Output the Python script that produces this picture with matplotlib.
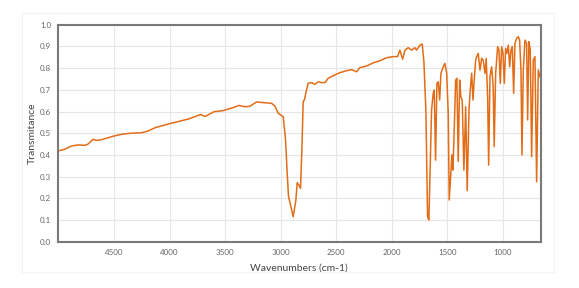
import matplotlib.pyplot as plt
from matplotlib.patches import Rectangle

# IR spectrum (wavenumber in cm-1, transmittance)
wavenumbers = [5000, 4944, 4884, 4824, 4764, 4734, 4689, 4659, 4614, 4509,
               4433, 4343, 4253, 4194, 4133, 4014, 3833, 3720, 3680, 3600,
               3518, 3428, 3374, 3322, 3277, 3217, 3158, 3082, 3052, 3022,
               2977, 2956, 2941, 2929, 2911, 2887, 2863, 2851, 2836, 2821,
               2809, 2797, 2785, 2767, 2752, 2722, 2692, 2662, 2632, 2602,
               2572, 2527, 2467, 2406, 2361, 2316, 2287, 2226, 2167, 2106,
               2046, 1987, 1947, 1926, 1902, 1881, 1851, 1821, 1791, 1776,
               1746, 1725, 1710, 1692, 1677, 1665, 1653, 1641, 1626, 1617,
               1605, 1593, 1581, 1568, 1557, 1536, 1521, 1505, 1491, 1482,
               1469, 1458, 1449, 1437, 1424, 1413, 1401, 1388, 1377, 1365,
               1350, 1334, 1320, 1304, 1293, 1280, 1268, 1257, 1244, 1235,
               1221, 1205, 1190, 1176, 1160, 1149, 1136, 1127, 1115, 1100,
               1086, 1077, 1064, 1046, 1034, 1022, 1010, 998, 986, 974,
               962, 950, 938, 926, 914, 902, 890, 875, 860, 848,
               836, 827, 815, 800, 785, 776, 764, 752, 740, 725,
               710, 695, 680, 665]
transmittance = [0.419, 0.426, 0.441, 0.446, 0.444, 0.450, 0.472, 0.467, 0.470, 0.486,
                 0.495, 0.500, 0.502, 0.510, 0.525, 0.542, 0.565, 0.586, 0.577, 0.599,
                 0.604, 0.618, 0.628, 0.622, 0.624, 0.644, 0.641, 0.638, 0.625, 0.592,
                 0.576, 0.469, 0.315, 0.207, 0.169, 0.115, 0.192, 0.272, 0.261, 0.246,
                 0.423, 0.645, 0.655, 0.700, 0.730, 0.733, 0.725, 0.737, 0.733, 0.733,
                 0.753, 0.765, 0.779, 0.788, 0.793, 0.783, 0.802, 0.810, 0.824, 0.834,
                 0.848, 0.853, 0.853, 0.883, 0.841, 0.883, 0.894, 0.883, 0.894, 0.883,
                 0.906, 0.911, 0.829, 0.600, 0.115, 0.100, 0.361, 0.607, 0.684, 0.699,
                 0.376, 0.730, 0.737, 0.653, 0.776, 0.806, 0.822, 0.776, 0.592, 0.192,
                 0.300, 0.400, 0.330, 0.515, 0.745, 0.753, 0.370, 0.745, 0.668, 0.653,
                 0.330, 0.622, 0.235, 0.607, 0.699, 0.776, 0.653, 0.745, 0.837, 0.853,
                 0.868, 0.791, 0.845, 0.837, 0.776, 0.845, 0.668, 0.353, 0.760, 0.806,
                 0.714, 0.438, 0.776, 0.899, 0.883, 0.730, 0.899, 0.868, 0.730, 0.891,
                 0.868, 0.906, 0.806, 0.883, 0.899, 0.684, 0.914, 0.937, 0.945, 0.929,
                 0.791, 0.400, 0.791, 0.929, 0.914, 0.561, 0.922, 0.883, 0.392, 0.837,
                 0.853, 0.276, 0.791, 0.760]
x_ticks = [4500, 4000, 3500, 3000, 2500, 2000, 1500, 1000]
y_ticks = [0.0, 0.1, 0.2, 0.3, 0.4, 0.5, 0.6, 0.7, 0.8, 0.9, 1.0]

plt.rcParams['font.family'] = ['Lato', 'DejaVu Sans']

fig = plt.figure(figsize=(5.79, 2.88), dpi=100)
# faint frame around the whole chart
fig.patches.append(Rectangle((0.038, 0.055), 0.918, 0.90, transform=fig.transFigure,
                             fill=False, edgecolor='#f3f3f3', linewidth=0.8))
ax = fig.add_axes([0.1002, 0.1608, 0.8337, 0.7534])

ax.plot(wavenumbers, transmittance, color='#E36C17', linewidth=1.1)

ax.set_xlim(5005, 658)
ax.set_ylim(0, 1.0)
ax.set_xticks(x_ticks)
ax.set_yticks(y_ticks)
ax.set_yticklabels([f'{v:.1f}' for v in y_ticks])
ax.tick_params(length=0, labelsize=5.8, labelcolor='#666666', pad=5)
ax.grid(True, color='#e6e6e6', linewidth=0.8)
ax.set_axisbelow(True)
for side in ['left', 'bottom', 'top', 'right']:
    ax.spines[side].set_color('#7a7a7a')
    ax.spines[side].set_linewidth(1.5)

ax.set_xlabel('Wavenumbers (cm-1)', fontsize=7.5, color='#444444', labelpad=6)
ax.set_ylabel('Transmitance', fontsize=7.5, color='#444444', labelpad=2)

fig.savefig('out.png', dpi=100)
